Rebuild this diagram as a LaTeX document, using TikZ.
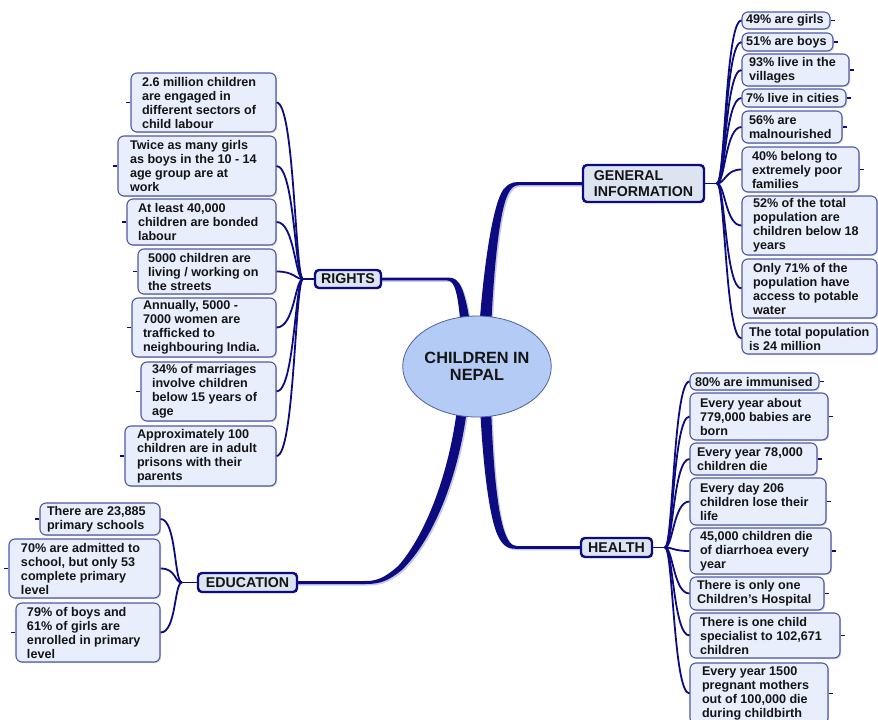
\documentclass[tikz,border=0pt]{standalone}
\usepackage{fontspec}
\setmainfont{Liberation Sans}
\usetikzlibrary{shapes.geometric,shadows}
\definecolor{navy}{RGB}{12,12,128}
\definecolor{leaffill}{RGB}{232,238,252}
\definecolor{leafline}{RGB}{78,88,168}
\definecolor{branchfill}{RGB}{220,228,241}
\definecolor{centerfill}{RGB}{180,203,246}
\definecolor{centeredge}{RGB}{80,95,160}
\definecolor{halo}{RGB}{200,200,238}
\definecolor{txt}{RGB}{20,20,20}
\tikzset{
  leafbox/.style={draw=leafline, line width=1.1pt, fill=leaffill, rounded corners=6pt,
    inner sep=0pt, text=txt, font=\fontsize{12.6}{14}\selectfont\bfseries,
    drop shadow={shadow xshift=1.2pt,shadow yshift=-1.2pt,opacity=.3,fill=black!50}},
  branchbox/.style={draw=navy, line width=2.4pt, fill=branchfill, rounded corners=4pt,
    inner sep=0pt, text=txt, font=\fontsize{14.2}{16}\selectfont\bfseries, align=left,
    drop shadow={shadow xshift=1.2pt,shadow yshift=-1.2pt,opacity=.3,fill=black!50}},
  conn/.style={draw=navy, line width=1.8pt},
  tickmark/.style={draw=navy, line width=1.2pt},
  trunk/.style={fill=navy, preaction={fill=halo, transform canvas={shift={(1.5pt,-1.5pt)}}}},
}
\newcommand{\mmleaf}[7]{%
  \pgfmathsetmacro{\lcx}{(#2+#3)/2}%
  \pgfmathsetmacro{\lcy}{(#4+#5)/2}%
  \pgfmathsetmacro{\lw}{#3-#2}%
  \pgfmathsetmacro{\lh}{#5-#4}%
  \node[leafbox, minimum height=\lh pt] (#1) at (\lcx,\lcy)
    {\hspace*{#6pt}\parbox[c]{\dimexpr\lw pt-#6pt\relax}{\raggedright #7}};}
\begin{document}
\begin{tikzpicture}[x=1pt,y=-1pt]
\useasboundingbox (0,0) rectangle (878,720);
\clip (0,0) rectangle (878,720);
\fill[white] (0,0) rectangle (878,720);

% main branches
\fill[trunk] (380,277.6) -- (449,277.6) .. controls (459,277.6) and (465,287) .. (471,330)
  -- (461,330) .. controls (458,293) and (455,280.4) .. (447,280.4) -- (380,280.4) -- cycle;
\fill[trunk] (479,330) .. controls (484,262) and (493,205) .. (503,190)
  .. controls (507,185) and (511,182) .. (518,182) -- (584,182) -- (584,185) -- (519,185.2)
  .. controls (514,185.2) and (511,188) .. (508,194)
  .. controls (500,210) and (494,262) .. (491,330) -- cycle;
\fill[trunk] (480,405) .. controls (483,470) and (490,520) .. (498,536)
  .. controls (502,544) and (506,548.8) .. (516,548.8) -- (582,548.8) -- (582,546) -- (517,546)
  .. controls (511,546) and (508,541) .. (505,533)
  .. controls (498,515) and (493,470) .. (491,405) -- cycle;
\fill[trunk] (467.5,405) .. controls (460,470) and (436,537) .. (401.7,570.1)
  .. controls (389.5,580) and (381,584) .. (366,584) -- (296,584) -- (296,581) -- (366,581)
  .. controls (379,581) and (386.5,576) .. (398.3,565.9)
  .. controls (427,533) and (450,470) .. (457.5,405) -- cycle;

% centre
\node[ellipse, draw=centeredge, line width=0.8pt, fill=centerfill, minimum width=138pt,
  minimum height=101pt, inner sep=0pt, align=center, text=txt,
  font=\fontsize{16.3}{17}\selectfont\bfseries] (c) at (477,366.5) {CHILDREN IN\\NEPAL};

% branch nodes
\node[branchbox, minimum width=66pt, minimum height=18pt] (rights) at (348,279) {RIGHTS};
\node[branchbox, minimum width=121pt, minimum height=37pt] (gen) at (643.5,183.5) {GENERAL\\INFORMATION};
\node[branchbox, minimum width=71pt, minimum height=19pt] (health) at (616.5,547.5) {HEALTH};
\node[branchbox, minimum width=99pt, minimum height=19pt] (edu) at (247.5,582.5) {EDUCATION};

\coordinate (jr) at (303,279);
\coordinate (jg) at (717,183.5);
\coordinate (jh) at (665,547.5);
\coordinate (je) at (182,582.5);

% rights leaves
\mmleaf{r1}{131}{276}{73}{132}{11}{2.6 million children\\are engaged in\\different sectors of\\child labour}
\mmleaf{r2}{118}{276}{136}{196}{12}{Twice as many girls\\as boys in the 10 - 14\\age group are at\\work}
\mmleaf{r3}{127}{276}{199}{245}{11}{At least 40,000\\children are bonded\\labour}
\mmleaf{r4}{138}{276}{249}{294}{10}{5000 children are\\living / working on\\the streets}
\mmleaf{r5}{132}{276}{298}{357}{11}{Annually, 5000 -\\7000 women are\\trafficked to\\neighbouring India.}
\mmleaf{r6}{141}{276}{362}{421}{11}{34\% of marriages\\involve children\\below 15 years of\\age}
\mmleaf{r7}{125}{276}{426}{486}{12}{Approximately 100\\children are in adult\\prisons with their\\parents}

% general information leaves
\mmleaf{g1}{742}{830}{12}{29}{4}{49\% are girls}
\mmleaf{g2}{742}{833}{33}{51}{4}{51\% are boys}
\mmleaf{g3}{742}{849}{54}{86}{7}{93\% live in the\\villages}
\mmleaf{g4}{742}{846}{89}{107}{4}{7\% live in cities}
\mmleaf{g5}{742}{842}{111}{143}{7}{56\% are\\malnourished}
\mmleaf{g6}{742}{859}{147}{192}{10}{40\% belong to\\extremely poor\\families}
\mmleaf{g7}{742}{877}{196}{255}{11}{52\% of the total\\population are\\children below 18\\years}
\mmleaf{g8}{742}{877}{259}{318}{11}{Only 71\% of the\\population have\\access to potable\\water}
\mmleaf{g9}{742}{877}{323}{354}{7}{The total population\\is 24 million}

% health leaves
\mmleaf{h1}{690}{819}{373}{390}{5}{80\% are immunised}
\mmleaf{h2}{690}{828}{393}{440}{10}{Every year about\\779,000 babies are\\born}
\mmleaf{h3}{690}{817}{443}{475}{7}{Every year 78,000\\children die}
\mmleaf{h4}{690}{826}{478}{525}{10}{Every day 206\\children lose their\\life}
\mmleaf{h5}{690}{831}{528}{574}{10}{45,000 children die\\of diarrhoea every\\year}
\mmleaf{h6}{690}{824}{577}{610}{7}{There is only one\\Children’s Hospital}
\mmleaf{h7}{690}{840}{613}{658}{10}{There is one child\\specialist to 102,671\\children}
\mmleaf{h8}{690}{828}{663}{724}{12}{Every year 1500\\pregnant mothers\\out of 100,000 die\\during childbirth}

% education leaves
\mmleaf{e1}{40}{160}{503}{535}{7}{There are 23,885\\primary schools}
\mmleaf{e2}{9}{160}{539}{598}{12}{70\% are admitted to\\school, but only 53\\complete primary\\level}
\mmleaf{e3}{16}{160}{603}{662}{11}{79\% of boys and\\61\% of girls are\\enrolled in primary\\level}

% connectors
\draw[conn] (rights.west) -- (jr);
\foreach \n in {r1,r2,r3,r4,r5,r6,r7}
  \draw[conn] (jr) .. controls +(-8,0) and +(18,0) .. (\n.east);
\draw[conn] (gen.east) -- (jg);
\foreach \n in {g1,g2,g3,g4,g5,g6,g7,g8,g9}
  \draw[conn] (jg) .. controls +(8,0) and +(-16,0) .. (\n.west);
\draw[conn] (health.east) -- (jh);
\foreach \n in {h1,h2,h3,h4,h5,h6,h7,h8}
  \draw[conn] (jh) .. controls +(8,0) and +(-16,0) .. (\n.west);
\draw[conn] (edu.west) -- (je);
\foreach \n in {e1,e2,e3}
  \draw[conn] (je) .. controls +(-8,0) and +(16,0) .. (\n.east);

% collapse ticks
\foreach \n in {r1,r2,r3,r4,r5,r6,r7,e1,e2,e3}
  \draw[tickmark] (\n.west) -- ++(-4,0);
\foreach \n in {g1,g2,g3,g4,g5,g6,h1,h2,h3,h4,h5,h6,h7,h8}
  \draw[tickmark] (\n.east) -- ++(4,0);
\end{tikzpicture}
\end{document}
